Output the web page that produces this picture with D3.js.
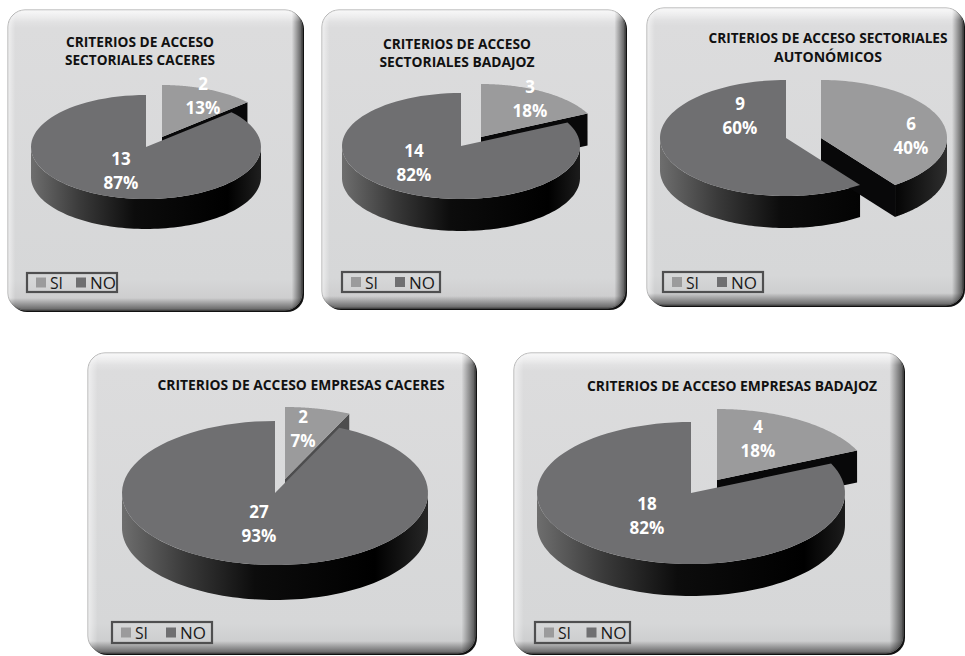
<!DOCTYPE html>
<html><head><meta charset="utf-8">
<script src="https://cdn.jsdelivr.net/npm/d3@7"></script>
<style>html,body{margin:0;padding:0;background:#fff;} svg{display:block;}</style>
</head><body><svg id="c" width="965" height="656"></svg>
<script>
// ---- data ----
const categories = ["SI", "NO"];
const siValues = [2, 3, 6, 2, 4];
const noValues = [13, 14, 9, 27, 18];
const titleLines = [
  ["CRITERIOS DE ACCESO", "SECTORIALES CACERES"],
  ["CRITERIOS DE ACCESO", "SECTORIALES BADAJOZ"],
  ["CRITERIOS DE ACCESO SECTORIALES", "AUTONÓMICOS"],
  ["CRITERIOS DE ACCESO EMPRESAS CACERES"],
  ["CRITERIOS DE ACCESO EMPRESAS BADAJOZ"]
];

// ---- layout (positions / sizes only) ----
const layout = [
  {x:8, y:10, w:294, h:300, cx:146, cy:147, rx:115, ry:52, depth:30, ex:[16,-10],
   tx:140, ty:[47,65], tw:[148,150], lg:[27,273,90,19], lab:[[203,90],[121,165]]},
  {x:322, y:10, w:303, h:298, cx:461, cy:146, rx:119, ry:53, depth:32, ex:[20,-9],
   tx:457, ty:[49,67], tw:[148,155], lg:[342,272,98,20], lab:[[530,93],[414,157]]},
  {x:647, y:8, w:316, h:297, cx:786, cy:138, rx:126, ry:58, depth:32, ex:[35,0],
   tx:828, ty:[43,62], tw:[239,108], lg:[663,272,100,20], lab:[[911,130],[740,110]]},
  {x:88, y:353, w:387, h:300, cx:275, cy:493, rx:153, ry:72, depth:35, ex:[10,-14],
   tx:301, ty:[390], tw:[287], lg:[112,622,100,21], lab:[[303,423],[259,518]]},
  {x:514, y:353, w:389, h:300, cx:691, cy:493, rx:154, ry:71, depth:32, ex:[26,-13],
   tx:732, ty:[391], tw:[290], lg:[535,622,95,21], lab:[[758,433],[647,510]]}
];

const color = d3.scaleOrdinal().domain(categories).range(["#9b9b9c", "#6f6f71"]);
const pct = d3.format(".0%");
const svg = d3.select("#c");
const defs = svg.append("defs");

function grad(id, x1, y1, x2, y2, stops, units) {
  const g = defs.append("linearGradient").attr("id", id)
    .attr("x1", x1).attr("y1", y1).attr("x2", x2).attr("y2", y2);
  if (units) g.attr("gradientUnits", units);
  stops.forEach(s => g.append("stop").attr("offset", s[0]).attr("stop-color", s[1]).attr("stop-opacity", s[2] == null ? 1 : s[2]));
}
grad("pbg", 0, 0, 0, 1, [[0, "#ededee"], [0.06, "#dcdcdd"], [0.9, "#d6d7d8"], [1, "#c8c8c9"]]);
grad("edgeH", 0, 0, 1, 0, [[0, "#fff", 0.55], [0.025, "#fff", 0], [0.965, "#000", 0], [1, "#000", 0.6]]);
grad("edgeV", 0, 0, 0, 1, [[0, "#fff", 0.6], [0.04, "#fff", 0], [0.96, "#000", 0], [1, "#000", 0.5]]);

const pie = d3.pie().sort(null).value(d => d.v).startAngle(0).endAngle(2 * Math.PI);

layout.forEach((L, i) => {
  const g = svg.append("g");
  // panel
  g.append("rect").attr("x", L.x + 2).attr("y", L.y + 2).attr("width", L.w).attr("height", L.h)
    .attr("rx", 17).attr("fill", "#111");
  g.append("rect").attr("x", L.x).attr("y", L.y).attr("width", L.w).attr("height", L.h)
    .attr("rx", 17).attr("fill", "url(#pbg)").attr("stroke", "#8a8a8a").attr("stroke-width", 0.8);
  g.append("rect").attr("x", L.x).attr("y", L.y).attr("width", L.w).attr("height", L.h)
    .attr("rx", 17).attr("fill", "url(#edgeH)");
  g.append("rect").attr("x", L.x).attr("y", L.y).attr("width", L.w).attr("height", L.h)
    .attr("rx", 17).attr("fill", "url(#edgeV)");

  // title
  titleLines[i].forEach((t, k) => {
    g.append("text").attr("x", L.tx).attr("y", L.ty[k]).attr("text-anchor", "middle")
      .attr("font-family", "'Open Sans', sans-serif").attr("font-weight", 700).attr("font-size", 14)
      .attr("fill", "#111").attr("textLength", L.tw[k]).attr("lengthAdjust", "spacingAndGlyphs")
      .text(t);
  });

  // pie
  const data = categories.map((c, k) => ({c, v: (k === 0 ? siValues : noValues)[i]}));
  const total = d3.sum(data, d => d.v);
  const arcs = pie(data);
  const sideId = "side" + i;
  grad(sideId, L.cx - L.rx, 0, L.cx + L.rx + L.ex[0], 0,
    [[0, "#6e6e6e"], [0.2, "#3a3a3a"], [0.42, "#0c0c0c"], [0.8, "#000"], [1, "#2e2e2e"]], "userSpaceOnUse");

  const geo = arcs.map(a => {
    const off = a.data.c === "SI" ? L.ex : [0, 0];
    return {a, ox: L.cx + off[0], oy: L.cy + off[1]};
  });
  const P = (G, ang, z) => [G.ox + L.rx * Math.sin(ang), G.oy - L.ry * Math.cos(ang) + z];
  const steps = 90;

  const walls = g.append("g"), tops = g.append("g");
  // draw NO first, then SI
  [1, 0].forEach(k => {
    const G = geo[k], a0 = G.a.startAngle, a1 = G.a.endAngle;
    // rim wall: visible where angle between PI/2 and 3PI/2
    const v0 = Math.max(a0, Math.PI / 2), v1 = Math.min(a1, 3 * Math.PI / 2);
    if (v1 > v0) {
      const p = d3.path();
      for (let s = 0; s <= steps; s++) {
        const t = v0 + (v1 - v0) * s / steps, q = P(G, t, 0);
        s === 0 ? p.moveTo(q[0], q[1]) : p.lineTo(q[0], q[1]);
      }
      for (let s = steps; s >= 0; s--) {
        const t = v0 + (v1 - v0) * s / steps, q = P(G, t, L.depth);
        p.lineTo(q[0], q[1]);
      }
      p.closePath();
      walls.append("path").attr("d", p.toString()).attr("fill", `url(#${sideId})`);
    }
    // cut walls
    [[a1, a1 + Math.PI / 2], [a0, a0 - Math.PI / 2]].forEach(([ang, n]) => {
      if (-Math.cos(n) > 0.02 && (a1 - a0) < 2 * Math.PI - 1e-6) {
        const t0 = [G.ox, G.oy], t1 = P(G, ang, 0);
        const p = d3.path();
        p.moveTo(t0[0], t0[1]); p.lineTo(t1[0], t1[1]);
        p.lineTo(t1[0], t1[1] + L.depth); p.lineTo(t0[0], t0[1] + L.depth); p.closePath();
        const lv = Math.round(8 + 110 * Math.max(0, (Math.sin(n) - 0.75) / 0.25));
        walls.append("path").attr("d", p.toString()).attr("fill", d3.rgb(lv, lv, lv + 1));
      }
    });
    // top face
    const p = d3.path();
    p.moveTo(G.ox, G.oy);
    for (let s = 0; s <= steps; s++) {
      const t = a0 + (a1 - a0) * s / steps, q = P(G, t, 0);
      p.lineTo(q[0], q[1]);
    }
    p.closePath();
    tops.append("path").attr("d", p.toString()).attr("fill", color(G.a.data.c));
  });

  // data labels
  geo.forEach((G, k) => {
    const d = G.a.data, pos = L.lab[k];
    const t = g.append("text").attr("x", pos[0]).attr("y", pos[1]).attr("text-anchor", "middle")
      .attr("font-family", "'Open Sans', sans-serif").attr("font-weight", 700).attr("font-size", 17)
      .attr("fill", "#fff");
    t.append("tspan").attr("x", pos[0]).attr("dy", 0).text(d.v);
    t.append("tspan").attr("x", pos[0]).attr("dy", 23.5).text(pct(d.v / total));
  });

  // legend
  const [lx, ly, lw, lh] = L.lg;
  const lgG = g.append("g");
  lgG.append("rect").attr("x", lx).attr("y", ly).attr("width", lw).attr("height", lh)
    .attr("fill", "none").attr("stroke", "#4f4f50").attr("stroke-width", 2.2);
  const step = lw / 2 - 6;
  categories.forEach((c, k) => {
    const bx = lx + 9 + k * (step + 1);
    lgG.append("rect").attr("x", bx).attr("y", ly + lh / 2 - 5).attr("width", 10).attr("height", 10)
      .attr("fill", color(c));
    lgG.append("text").attr("x", bx + 14).attr("y", ly + lh / 2 + 6.5)
      .attr("font-family", "'Open Sans', sans-serif").attr("font-size", 17).attr("fill", "#1a1a1a")
      .attr("textLength", c === "SI" ? 13 : 26).attr("lengthAdjust", "spacingAndGlyphs").text(c);
  });
});
</script>
</body></html>
